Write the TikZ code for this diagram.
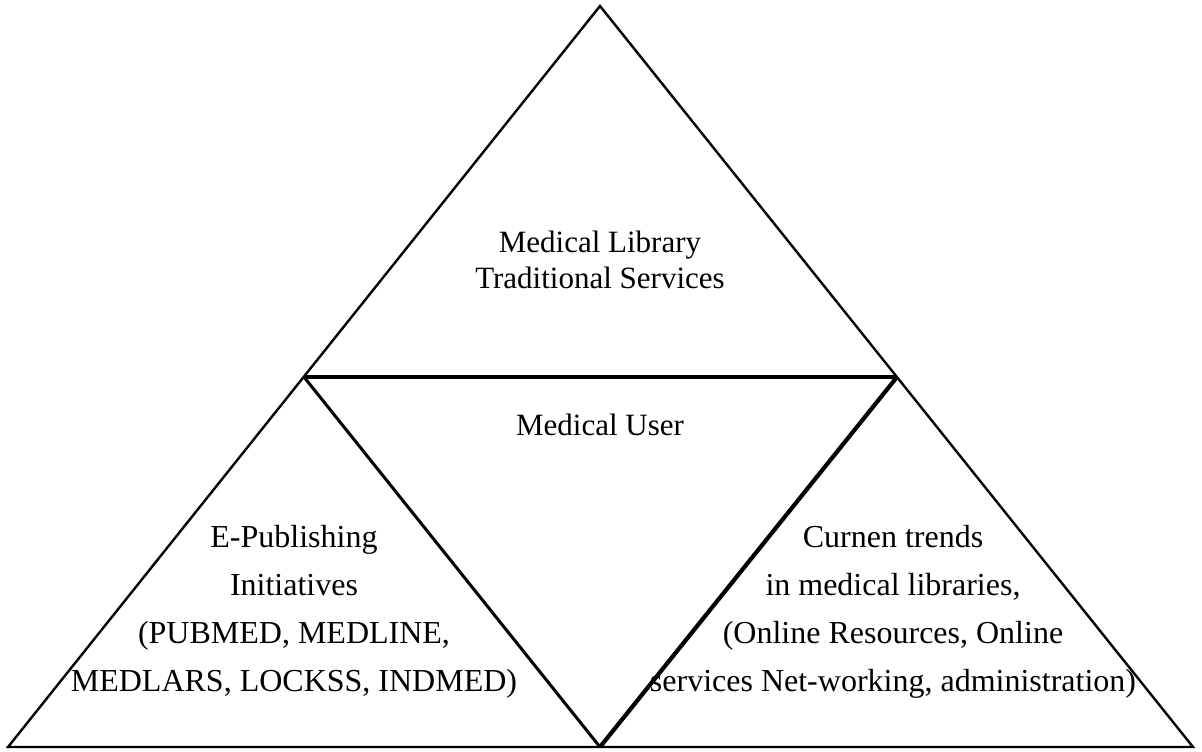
\documentclass[tikz,border=0pt]{standalone}
\usepackage{fontspec}
\setmainfont{Liberation Serif}
\begin{document}
\begin{tikzpicture}[x=0.5pt,y=-0.5pt,
  txt/.style={align=center,font=\fontsize{15.5}{18}\selectfont},
  txtwide/.style={align=center,font=\fontsize{16}{24}\selectfont}]
  \useasboundingbox (0,0) rectangle (1202,751);
  % corners
  \coordinate (apex) at (600,6);
  \coordinate (bl) at (8,747);
  \coordinate (br) at (1193,747);
  \coordinate (ml) at (304,377);
  \coordinate (mr) at (897,377);
  \coordinate (mb) at (600,747);
  % outer triangle
  \draw[line width=1.2pt,line join=miter] (apex) -- (br) -- (bl) -- cycle;
  % inner triangle
  \draw[line width=2.2pt] (ml) -- (mr);
  \draw[line width=1.5pt] (ml) -- (mb);
  \draw[line width=2.1pt] (mr) -- (mb);
  % labels
  \node[txt] (top) at (600,260) {Medical Library\\Traditional Services};
  \node[txt] (user) at (600,425) {Medical User};
  \node[txtwide] (left) at (294,612) {E-Publishing\\Initiatives\\(PUBMED, MEDLINE,\\MEDLARS, LOCKSS, INDMED)};
  \node[txtwide] (right) at (893,612) {Curnen trends\\in medical libraries,\\(Online Resources, Online\\services Net-working, administration)};
\end{tikzpicture}
\end{document}
